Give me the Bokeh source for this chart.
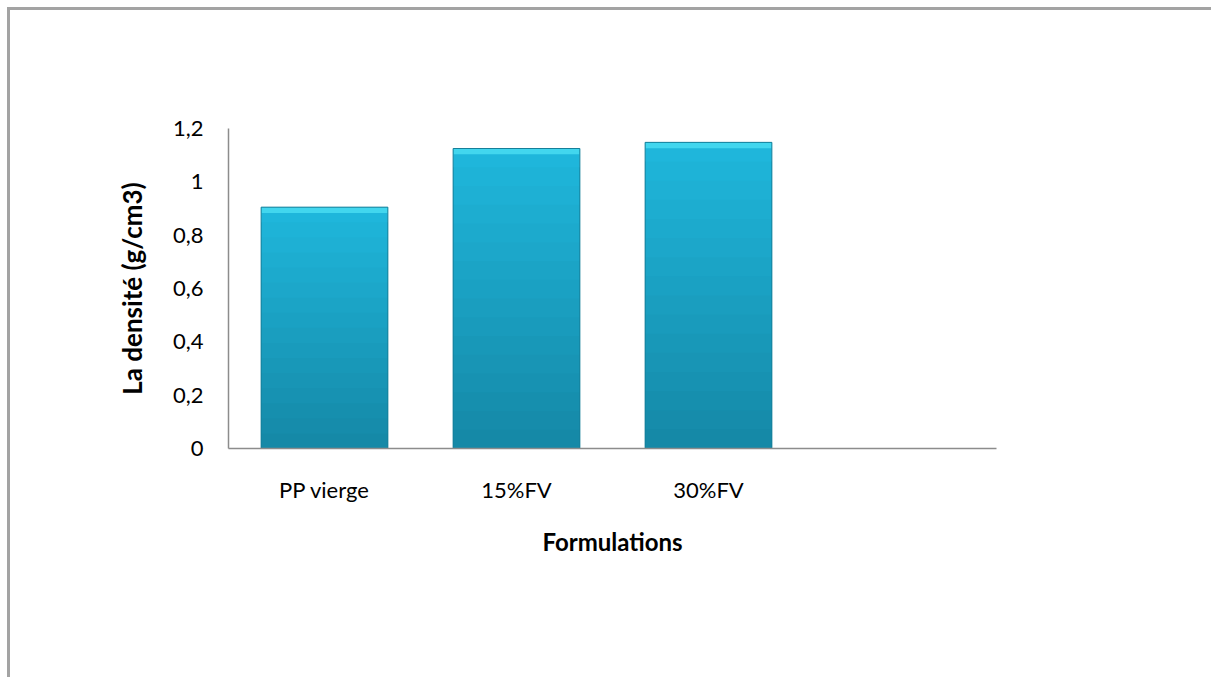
from bokeh.plotting import figure
from bokeh.models import FactorRange, Range1d, FixedTicker, ColumnDataSource
from bokeh.embed import file_html
from bokeh.resources import INLINE

# ---- data ----
categories = ["PP vierge", "15%FV", "30%FV"]
pad_factor = [" "]
densite = [0.905, 1.125, 1.148]
y_ticks = [0.0, 0.2, 0.4, 0.6, 0.8, 1.0, 1.2]
y_tick_labels = ["0", "0,2", "0,4", "0,6", "0,8", "1", "1,2"]
x_title = "Formulations"
y_title = "La densité (g/cm3)"

FONT = "Lato"
AXIS_COL = "#8c8c8c"

p = figure(
    width=1204, height=670,
    x_range=FactorRange(factors=categories + pad_factor, range_padding=0),
    y_range=Range1d(0, 1.2),
    output_backend="svg", toolbar_location=None,
    min_border_left=218, min_border_right=218,
    min_border_top=118, min_border_bottom=232,
)
p.styles = {
    "margin-left": "7px", "margin-top": "7px",
    "border-top": "3px solid #a3a3a3", "border-left": "3px solid #a3a3a3",
}
p.outline_line_color = None
p.background_fill_color = "white"
p.border_fill_color = "white"
p.xgrid.visible = False
p.ygrid.visible = False

# simulated vertical gradient of the bars: overlapping layers derived from the data
n_bands = 16
bot_rgb = (0x15, 0x88, 0xa6)
top_rgb = (0x20, 0xb8, 0xdd)
for k in reversed(range(n_bands)):
    t = (k + 0.5) / n_bands
    col = "#%02x%02x%02x" % tuple(int(b + (tp - b) * t) for b, tp in zip(bot_rgb, top_rgb))
    src = ColumnDataSource(dict(
        x=categories,
        top=[v * (k + 1) / n_bands for v in densite],
    ))
    p.vbar(x="x", bottom=0, top="top", width=0.66, source=src,
           fill_color=col, line_color=None)

# bevel on top of each bar
bevel = ColumnDataSource(dict(x=categories,
                              bottom=[v - 0.022 for v in densite],
                              top=densite))
p.vbar(x="x", bottom="bottom", top="top", width=0.66, source=bevel,
       fill_color="#42d6ee", line_color=None)
# outline of bars
p.vbar(x=categories, top=densite, width=0.66, fill_color=None,
       line_color="#167f99", line_width=1)

# axes
for ax in (p.xaxis[0], p.yaxis[0]):
    ax.axis_line_color = AXIS_COL
    ax.axis_line_width = 1.5
    ax.major_tick_line_color = None
    ax.minor_tick_line_color = None
    ax.major_tick_in = 0
    ax.major_tick_out = 0
    ax.major_label_text_font = FONT
    ax.major_label_text_font_size = "22px"
    ax.major_label_text_color = "#000000"
    ax.axis_label_text_font = FONT
    ax.axis_label_text_font_style = "bold"
    ax.axis_label_text_color = "#000000"

p.yaxis.ticker = FixedTicker(ticks=y_ticks)
p.yaxis.major_label_overrides = dict(zip(y_ticks, y_tick_labels))
p.yaxis.major_label_standoff = 25
p.yaxis.axis_label = y_title
p.yaxis.axis_label_text_font_size = "26px"
p.yaxis.axis_label_standoff = 22

p.xaxis.axis_label = x_title
p.xaxis.axis_label_text_font_size = "24px"
p.xaxis.major_label_standoff = 27
p.xaxis.axis_label_standoff = 21

open("out.html", "w").write(file_html(p, INLINE))
